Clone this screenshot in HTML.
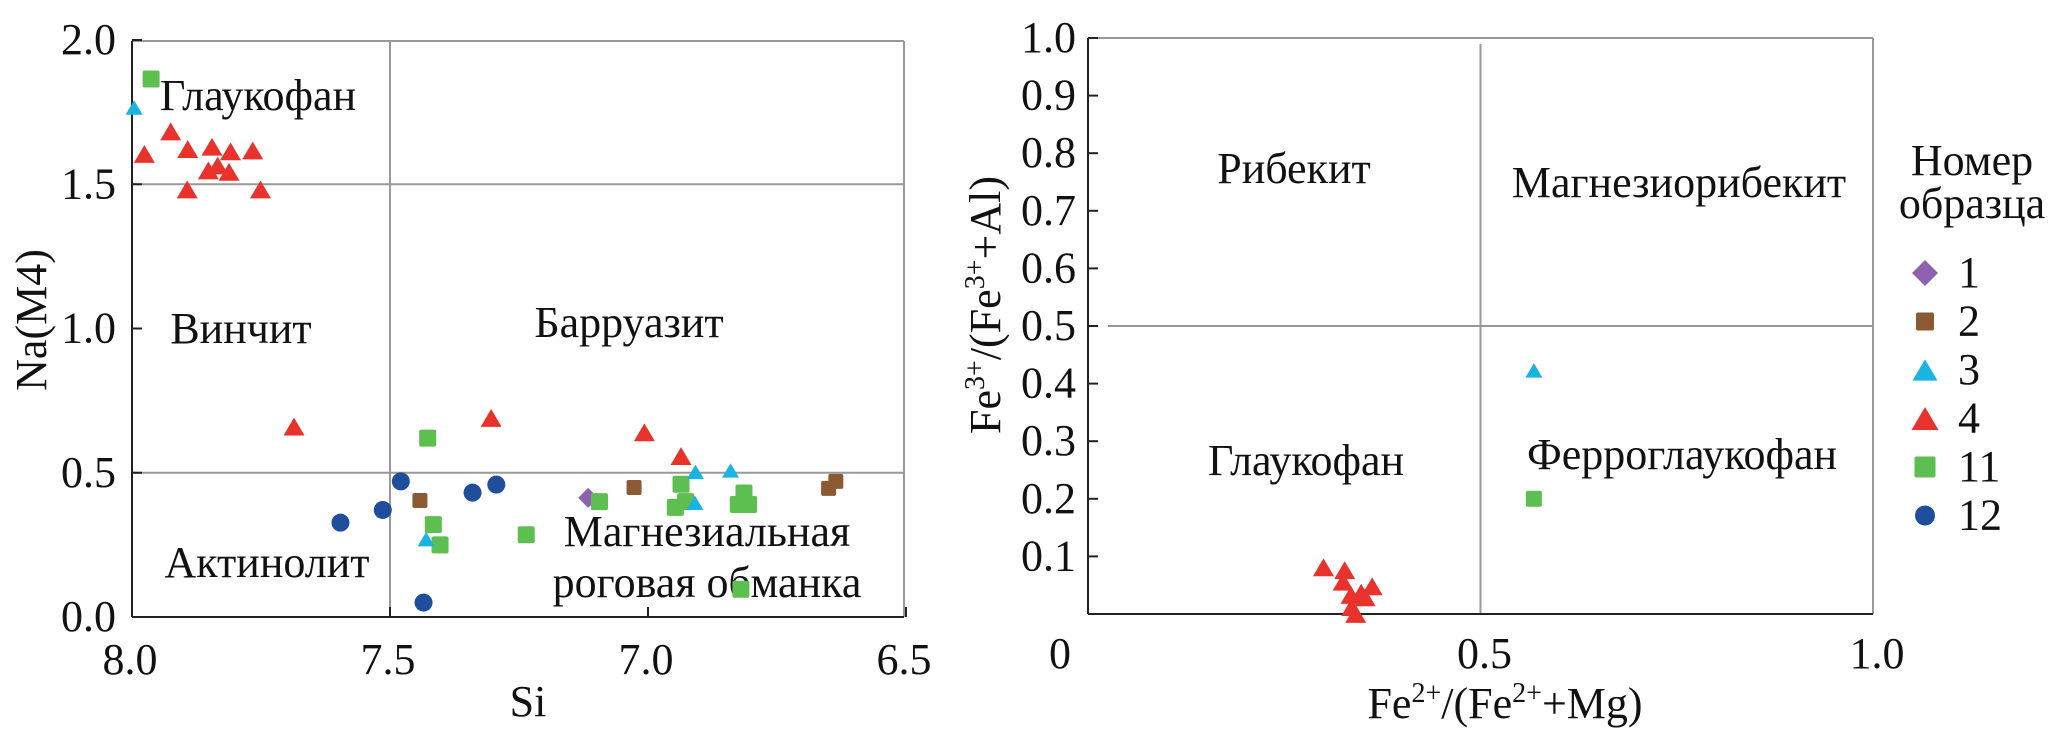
<!DOCTYPE html>
<html><head><meta charset="utf-8">
<style>
html,body{margin:0;padding:0;background:#fff;}
svg{display:block;}
text{font-family:"Liberation Serif","Noto Serif CJK SC",serif;}
</style></head>
<body>
<svg id="fig" width="2067" height="744" viewBox="0 0 2067 744" xmlns="http://www.w3.org/2000/svg" font-family="Liberation Serif, serif">
<g id="left"></g>
<g id="right"></g>
<g id="legend"></g>
</svg>
<script>
// ---- Left chart data (Si vs Na(M4)) ----
const s1Si=[7.116]; const s1Na=[0.413];
const s2Si=[7.442,7.027,6.650,6.636]; const s2Na=[0.404,0.449,0.446,0.47];
const s3Si=[7.996,6.908,6.84,7.430,6.909]; const s3Na=[1.766,0.503,0.508,0.27,0.396];
const s4Si=[7.976,7.925,7.892,7.893,7.845,7.852,7.834,7.809,7.812,7.766,7.751,7.686,7.304,7.007,6.936];
const s4Na=[1.605,1.683,1.622,1.482,1.63,1.548,1.565,1.614,1.543,1.617,1.482,0.66,0.69,0.64,0.558];
const s11Si=[7.963,7.427,7.416,7.403,7.236,7.094,6.936,6.947,6.927,6.825,6.814,6.805,6.82];
const s11Na=[1.865,0.62,0.32,0.25,0.285,0.40,0.46,0.38,0.40,0.39,0.43,0.39,0.096];
const s12Si=[7.596,7.514,7.479,7.340,7.294,7.435]; const s12Na=[0.327,0.371,0.47,0.431,0.459,0.05];
const leftXTicks=[8.0,7.5,7.0,6.5]; const leftYTicks=[0.0,0.5,1.0,1.5,2.0];
// ---- Right chart data ----
const r4X=[0.30,0.327,0.325,0.335,0.348,0.362,0.341,0.353,0.336];
const r4Y=[0.081,0.076,0.056,0.033,0.037,0.048,0.0,0.029,0.012];
const r3X=[0.568]; const r3Y=[0.423];
const r11X=[0.568]; const r11Y=[0.2];
const rightYTicks=[0.1,0.2,0.3,0.4,0.5,0.6,0.7,0.8,0.9,1.0];
const rightXTicks=[0,0.5,1.0];
const legendLabels=['1','2','3','4','11','12'];

const NS='http://www.w3.org/2000/svg';
const C={p:'#8e62b0',b:'#8b5a33',c:'#1ab4e2',r:'#e8322b',g:'#5cbf4f',n:'#1f4e9c'};
function mk(tag,attrs,parent){const e=document.createElementNS(NS,tag);for(const k in attrs)e.setAttribute(k,attrs[k]);parent.appendChild(e);return e;}
const lx=v=>132+(8-v)*516, ly=v=>617-v*288.5;
const rx=v=>1088+v*785, ry=v=>614-v*576;

function marker(g,type,x,y,col,s,name){
  let e;
  if(type==='tri'){const w=s,h=s*0.85;e=mk('polygon',{points:`${x-w/2},${y+h/2} ${x+w/2},${y+h/2} ${x},${y-h/2}`,fill:col,'stroke-linejoin':'round'},g);}
  else if(type==='sq'){e=mk('rect',{x:x-s/2,y:y-s/2,width:s,height:s,rx:2,fill:col},g);}
  else if(type==='ci'){e=mk('circle',{cx:x,cy:y,r:s/2,fill:col},g);}
  else {e=mk('polygon',{points:`${x},${y-s/2} ${x+s/2},${y} ${x},${y+s/2} ${x-s/2},${y}`,fill:col},g);}
  
  
  return e;
}
function text(g,str,x,y,size,anchor,name){const t=mk('text',{x:x,y:y,'font-size':size,'text-anchor':anchor||'start',fill:'#111','font-family':'Liberation Serif, serif'},g);t.textContent=str;
  t.style.fontFamily='"Liberation Serif", serif';
  
  
  return t;}

// ---------- LEFT ----------
const L=document.getElementById('left');
mk('line',{x1:132,y1:41,x2:904,y2:41,stroke:'#999','stroke-width':2},L);
mk('line',{x1:904,y1:41,x2:904,y2:617,stroke:'#999','stroke-width':2},L);
mk('line',{x1:lx(7.5),y1:41,x2:lx(7.5),y2:617,stroke:'#999','stroke-width':2},L);
mk('line',{x1:132,y1:ly(1.5),x2:904,y2:ly(1.5),stroke:'#999','stroke-width':2},L);
mk('line',{x1:132,y1:ly(0.5),x2:904,y2:ly(0.5),stroke:'#999','stroke-width':2},L);
mk('line',{x1:132,y1:41,x2:132,y2:617,stroke:'#222','stroke-width':2},L);
mk('line',{x1:132,y1:617,x2:904,y2:617,stroke:'#222','stroke-width':2},L);
leftYTicks.forEach(v=>{mk('line',{x1:132,y1:ly(v),x2:142,y2:ly(v),stroke:'#222','stroke-width':2},L);
  text(L,v.toFixed(1),116,ly(v)+14,44,'end','y-tick-label');});
leftXTicks.forEach(v=>{mk('line',{x1:lx(v),y1:617,x2:lx(v),y2:607,stroke:'#222','stroke-width':2},L);
  text(L,v.toFixed(1),lx(v)-2,674,44,'middle','x-tick-label');});
text(L,'Si',528,716,44,'middle','x-axis-title');
const yt=text(L,'Na(M4)',0,0,44,'middle','y-axis-title');yt.setAttribute('transform','translate(46,320) rotate(-90)');
text(L,'Глаукофан',160,110,44,'start','region-glaucophane');
text(L,'Винчит',241,343,44,'middle','region-winchite');
text(L,'Барруазит',629,337,44,'middle','region-barroisite');
text(L,'Актинолит',267,577,44,'middle','region-actinolite');
text(L,'Магнезиальная',707,546,44,'middle','region-magnesio-hornblende-1');
text(L,'роговая обманка',707,597,44,'middle','region-magnesio-hornblende-2');
s2Si.forEach((v,i)=>marker(L,'sq',lx(v),ly(s2Na[i]),C.b,15,'sample-2-point'));
s1Si.forEach((v,i)=>marker(L,'di',lx(v),ly(s1Na[i]),C.p,20,'sample-1-point'));
s12Si.forEach((v,i)=>marker(L,'ci',lx(v),ly(s12Na[i]),C.n,18,'sample-12-point'));
s11Si.forEach((v,i)=>marker(L,'sq',lx(v),ly(s11Na[i]),C.g,17,'sample-11-point'));
s3Si.forEach((v,i)=>marker(L,'tri',lx(v),ly(s3Na[i]),C.c,17,'sample-3-point'));
s4Si.forEach((v,i)=>marker(L,'tri',lx(v),ly(s4Na[i]),C.r,21,'sample-4-point'));

// ---------- RIGHT ----------
const R=document.getElementById('right');
mk('line',{x1:1088,y1:38,x2:1873,y2:38,stroke:'#999','stroke-width':2},R);
mk('line',{x1:1873,y1:38,x2:1873,y2:614,stroke:'#999','stroke-width':2},R);
mk('line',{x1:rx(0.5),y1:44,x2:rx(0.5),y2:614,stroke:'#999','stroke-width':2},R);
mk('line',{x1:1108,y1:ry(0.5),x2:1873,y2:ry(0.5),stroke:'#999','stroke-width':2},R);
mk('line',{x1:1088,y1:38,x2:1088,y2:614,stroke:'#222','stroke-width':2},R);
mk('line',{x1:1088,y1:614,x2:1873,y2:614,stroke:'#222','stroke-width':2},R);
rightYTicks.forEach(v=>{mk('line',{x1:1088,y1:ry(v),x2:1098,y2:ry(v),stroke:'#222','stroke-width':2},R);
  text(R,v.toFixed(1),1076,ry(v)+14,44,'end','y-tick-label');});
rightXTicks.forEach(v=>{const lbl=v===0?'0':v.toFixed(1);const x=v===0?1060:rx(v)+4;
  text(R,lbl,x,668,44,'middle','x-tick-label');});
const xt=text(R,'',1505,718,44,'middle','x-axis-title');
xt.innerHTML='Fe<tspan dy="-16" font-size="28">2+</tspan><tspan dy="16">/(Fe</tspan><tspan dy="-16" font-size="28">2+</tspan><tspan dy="16">+Mg)</tspan>';
const yt2=text(R,'',0,0,44,'middle','y-axis-title');yt2.setAttribute('transform','translate(1000,305) rotate(-90)');
yt2.innerHTML='Fe<tspan dy="-16" font-size="28">3+</tspan><tspan dy="16">/(Fe</tspan><tspan dy="-16" font-size="28">3+</tspan><tspan dy="16">+Al)</tspan>';
text(R,'Рибекит',1294,183,44,'middle','region-riebeckite');
text(R,'Магнезиорибекит',1679,197,44,'middle','region-magnesioriebeckite');
text(R,'Глаукофан',1306,475,44,'middle','region-glaucophane');
text(R,'Ферроглаукофан',1682,469,44,'middle','region-ferroglaucophane');
r11X.forEach((v,i)=>marker(R,'sq',rx(v),ry(r11Y[i]),C.g,16,'sample-11-point'));
r3X.forEach((v,i)=>marker(R,'tri',rx(v),ry(r3Y[i]),C.c,17,'sample-3-point'));
r4X.forEach((v,i)=>marker(R,'tri',rx(v),ry(r4Y[i]),C.r,21,'sample-4-point'));

// ---------- LEGEND ----------
const G=document.getElementById('legend');
text(G,'Номер',1972,175,44,'middle','legend-title-line1');
text(G,'образца',1972,218,44,'middle','legend-title-line2');
const legTypes=['di','sq','tri','tri','sq','ci'], legCols=[C.p,C.b,C.c,C.r,C.g,C.n], legSizes=[26,18,25,27,21,20];
legendLabels.forEach((lab,i)=>{const y=273+i*48.5;
  marker(G,legTypes[i],1925,y,legCols[i],legSizes[i],'legend-marker-'+lab);
  text(G,lab,1958,y+14,44,'start','legend-label-'+lab);});
</script>
</body></html>
